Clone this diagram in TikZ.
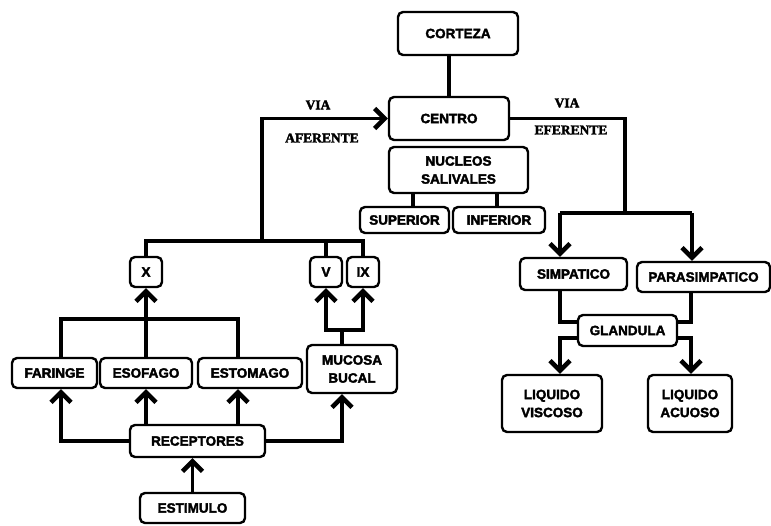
\documentclass[tikz,border=0pt]{standalone}
\usepackage{fontspec}
\setmainfont{Liberation Sans}[BoldFeatures={FakeBold=2.5}]
\newfontfamily\viafont{Liberation Serif}[BoldFeatures={FakeBold=2.5}]
\usetikzlibrary{arrows.meta}
\begin{document}
\begin{tikzpicture}[x=1pt,y=-1pt,
  box/.style={draw, line width=2.4pt, rounded corners=5pt, inner sep=1pt,
    font=\fontsize{13.5}{18}\selectfont\bfseries, align=center},
  conn/.style={line width=3.4pt},
  arr/.style={line width=3.4pt, -{Straight Barb[length=10pt,width=20pt,line width=4.6pt]}},
  via/.style={font=\viafont\fontsize{13.5}{14}\selectfont\bfseries, inner sep=0pt}]
\useasboundingbox (0,0) rectangle (771,525);
% nodes
\node[box, minimum width=120pt, minimum height=43pt] (corteza) at (458,33.5) {CORTEZA};
\node[box, minimum width=120pt, minimum height=43pt] (centro) at (449,118.5) {CENTRO};
\node[box, minimum width=139pt, minimum height=46pt] (nuc) at (458.5,170) {NUCLEOS\\SALIVALES};
\node[box, minimum width=89pt, minimum height=26pt] (sup) at (404.5,220) {SUPERIOR};
\node[box, minimum width=92pt, minimum height=26pt] (inf) at (499,220) {INFERIOR};
\node[box, minimum width=32pt, minimum height=30pt] (xbox) at (146,272) {X};
\node[box, minimum width=32pt, minimum height=30pt] (vbox) at (326,272) {V};
\node[box, minimum width=32pt, minimum height=30pt] (ixbox) at (363,272) {IX};
\node[box, minimum width=85pt, minimum height=30pt] (far) at (54.5,373) {FARINGE};
\node[box, minimum width=92pt, minimum height=30pt] (esof) at (146,373) {ESOFAGO};
\node[box, minimum width=104pt, minimum height=30pt] (estom) at (250,373) {ESTOMAGO};
\node[box, minimum width=90pt, minimum height=48pt] (muc) at (352,369) {MUCOSA\\BUCAL};
\node[box, minimum width=135pt, minimum height=32pt] (recep) at (197.5,441) {RECEPTORES};
\node[box, minimum width=105pt, minimum height=30pt] (estim) at (192.5,508) {ESTIMULO};
\node[box, minimum width=107pt, minimum height=32pt] (simp) at (573.5,274) {SIMPATICO};
\node[box, minimum width=133pt, minimum height=30pt] (para) at (703.5,277) {PARASIMPATICO};
\node[box, minimum width=99pt, minimum height=31pt] (gland) at (627.5,330.5) {GLANDULA};
\node[box, minimum width=100pt, minimum height=57pt] (visc) at (552,403.5) {LIQUIDO\\VISCOSO};
\node[box, minimum width=84pt, minimum height=57pt] (acuo) at (690,403.5) {LIQUIDO\\ACUOSO};
% labels
\node[via] (via1) at (318,105) {VIA};
\node[via] (afer) at (322,138) {AFERENTE};
\node[via] (via2) at (567,103) {VIA};
\node[via] (efer) at (571,130) {EFERENTE};
% coordinates
\coordinate (af) at (262,241);
\coordinate (ef) at (625,213);
\coordinate (s1) at (560,213);
\coordinate (s2) at (692,213);
\coordinate (g1) at (560,322);
\coordinate (g2) at (560,338);
\coordinate (h1) at (691,322);
\coordinate (h2) at (691,338);
\coordinate (b1) at (61,319);
\coordinate (b3) at (238,319);
\coordinate (r1) at (61,441);
\coordinate (r4) at (342,441);
\coordinate (m) at (342,330);
\coordinate (n1) at (413,200);
\coordinate (n2) at (497,200);
% connectors
\draw[conn] (centro.north) -- (centro.north |- corteza.south);
\draw[conn] (n1 |- nuc.south) -- (n1 |- sup.north);
\draw[conn] (n2 |- nuc.south) -- (n2 |- inf.north);
\draw[conn] (xbox.north) -- (xbox.north |- af) -- (ixbox.north |- af) -- (ixbox.north);
\draw[conn] (vbox.north) -- (vbox.north |- af);
\draw[arr] (af) |- (centro.west);
\draw[conn] (centro.east) -| (ef);
\draw[conn] (s1) -- (s2);
\draw[arr] (s1) -- (s1 |- simp.north);
\draw[arr] (s2) -- (s2 |- para.north);
\draw[conn] (g1 |- simp.south) -- (g1) -- (g1 -| gland.west);
\draw[conn] (h1 |- para.south) -- (h1) -- (h1 -| gland.east);
\draw[arr] (g2 -| gland.west) -- (g2) -- (g2 |- visc.north);
\draw[arr] (h2 -| gland.east) -- (h2) -- (h2 |- acuo.north);
\draw[conn] (b1 |- far.north) -- (b1) -- (b3) -- (b3 |- estom.north);
\draw[arr] (esof.north) -- (xbox.south);
\draw[arr] (recep.west) -- (r1) -- (r1 |- far.south);
\draw[arr] (recep.east) -- (r4) -- (r4 |- muc.south);
\draw[arr] (esof.south |- recep.north) -- (esof.south);
\draw[arr] (b3 |- recep.north) -- (b3 |- estom.south);
\draw[arr] (estim.north) -- (estim.north |- recep.south);
\draw[conn] (m |- muc.north) -- (m);
\draw[arr] (m) -| (vbox.south);
\draw[arr] (m) -| (ixbox.south);
\end{tikzpicture}
\end{document}
